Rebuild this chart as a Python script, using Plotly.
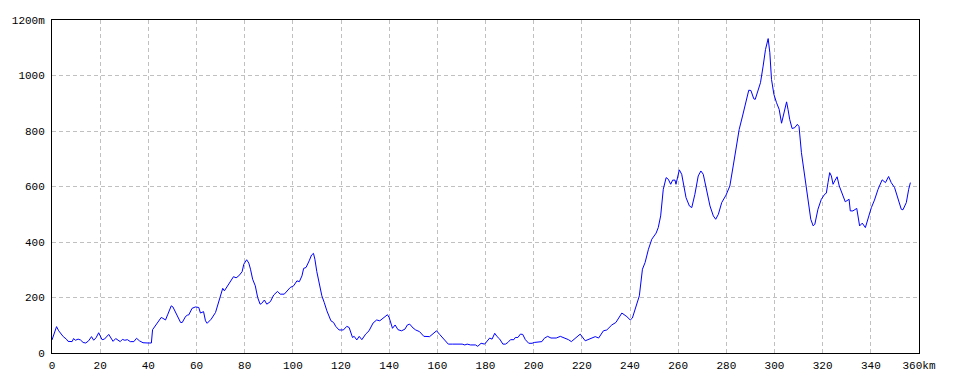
import plotly.graph_objects as go

distance_km = [
    0, 1.89, 2.78, 4.67, 5.97, 6.66, 8.35, 8.95, 9.74, 10.84, 11.83, 12.92, 14.02, 15.21, 16.4,
    17.3, 18.29, 19.39, 20.78, 21.77, 23.56, 24.66, 25.35, 26.45, 27.44, 28.33, 29.23, 30.22,
    31.32, 32.51, 34, 35.1, 36.29, 37.78, 39.87, 41.26, 41.76, 42.85, 44.04, 45.34, 46.03,
    47.13, 48.12, 49.51, 50.21, 51.6, 53.39, 54.08, 55.48, 56.37, 56.77, 58.16, 59.55, 60.94,
    61.64, 62.93, 63.73, 64.42, 66.11, 67.9, 68.8, 69.79, 70.89, 71.58, 72.28, 73.37, 73.97,
    75.36, 76.45, 77.55, 78.94, 79.64, 80.83, 81.72, 82.42, 83.31, 84.41, 85.4, 86.4, 86.99,
    88.19, 89.18, 90.67, 92.06, 93.65, 94.75, 96.44, 97.53, 98.92, 100.31, 101.71, 102.7,
    103.79, 104.49, 105.48, 106.78, 107.77, 108.57, 109.16, 109.96, 110.95, 112.05, 113.04,
    114.13, 115.82, 116.92, 117.81, 119.2, 120.99, 122.39, 123.38, 124.77, 125.47, 126.56,
    127.56, 128.65, 130.24, 131.63, 133.32, 134.81, 136.11, 137.9, 139.29, 139.98, 141.38,
    142.47, 143.66, 145.15, 146.55, 147.54, 148.53, 149.93, 151.02, 152.61, 154.4, 156.79,
    157.88, 159.67, 160.96, 162.75, 164.54, 166.23, 170.31, 171.4, 172.39, 173.79, 175.87,
    176.77, 178.16, 179.65, 180.65, 181.74, 182.73, 183.83, 184.82, 185.92, 187.21, 188.3,
    189.3, 190.39, 191.78, 192.38, 193.47, 194.47, 195.46, 196.55, 197.95, 199.34, 200.23,
    202.02, 203.41, 204.41, 205.8, 207.19, 209.38, 211.07, 212.86, 214.45, 215.64, 216.84,
    217.93, 219.32, 221.41, 223.5, 225.58, 226.98, 228.96, 230.36, 232.44, 234.13, 236.62,
    238.71, 240.1, 240.99, 242.58, 243.88, 245.17, 246.26, 247.66, 249.05, 250.84, 251.73,
    252.73, 253.82, 255.01, 255.91, 256.9, 257.7, 258.69, 259.09, 260.48, 261.47, 263.26,
    264.66, 265.65, 266.94, 268.33, 269.43, 270.42, 271.81, 273.21, 274.6, 275.59, 276.69,
    278.08, 279.87, 281.46, 282.85, 284.24, 285.34, 286.73, 288.12, 289.31, 290.21, 291.4,
    291.99, 293.19, 294.18, 295.28, 296.27, 297.37, 298.06, 298.76, 299.75, 300.84, 301.94,
    302.93, 303.63, 304.23, 305.02, 305.62, 306.31, 307.31, 308.4, 309.49, 310.19, 311.18,
    312.58, 313.97, 315.06, 316.06, 316.75, 318.04, 319.44, 320.83, 321.52, 322.22, 322.92,
    323.61, 324.31, 325, 326, 326.89, 328.19, 329.38, 330.97, 331.47, 332.56, 334.15, 335.34,
    336.44, 337.73, 338.82, 340.22, 341.51, 343, 344.69, 346.08, 347.37, 348.47, 349.86,
    351.25, 352.64, 353.34, 354.73, 355.72, 356.42,
]

elevation_m = [
    47, 95, 80, 59, 50, 42, 41, 52, 46, 50, 47, 38, 36, 44, 59, 46, 55, 73,
    48, 50, 67, 50, 42, 52, 47, 41, 49, 46, 48, 41, 41, 53, 44,
    37, 36, 36, 84, 98, 110, 128, 125, 119, 140, 170, 166, 140, 110, 110, 132,
    137, 137, 161, 166, 164, 144, 149, 116, 107, 122, 146, 170, 197, 233, 224, 233,
    251, 257, 275, 271, 278, 293, 320, 336, 324, 302, 266, 242, 200, 176, 178,
    191, 176, 185, 209, 222, 212, 212, 224, 236, 242, 260, 257, 278, 305,
    308, 332, 353, 359, 338, 293, 248, 206, 182, 152, 116, 110, 96,
    83, 83, 96, 92, 56, 60, 47, 60, 48, 68, 80, 108, 119,
    116, 128, 138, 128, 89, 101, 84, 80, 86, 101, 104, 90, 83,
    77, 60, 59, 66, 80, 67, 48, 32, 32, 32, 29, 32, 29,
    29, 24, 35, 32, 44, 54, 50, 71, 59, 50, 32, 32, 38,
    48, 48, 56, 56, 68, 67, 48, 35, 35, 38, 41, 41, 53,
    60, 54, 54, 60, 54, 48, 41, 50, 59, 68, 44, 53, 59,
    54, 80, 83, 101, 110, 144, 131, 119, 126, 170, 206, 302, 326,
    374, 410, 432, 452, 494, 590, 632, 626, 608, 623, 623, 608, 660,
    644, 560, 530, 524, 572, 638, 656, 644, 590, 530, 494, 482, 500, 542,
    569, 602, 674, 758, 806, 854, 908, 947, 946, 916, 914, 950, 974, 1034,
    1094, 1133, 1082, 986, 932, 902, 878, 828, 854, 884, 905, 878, 842,
    809, 812, 824, 816, 722, 638, 554, 482, 458, 464, 518, 554, 572,
    576, 614, 650, 638, 608, 620, 635, 602, 572, 545, 554, 512, 512,
    521, 458, 468, 452, 488, 524, 551, 590, 624, 614, 636, 614, 596,
    554, 518, 516, 542, 590, 614,
]

x_tick_values = list(range(0, 361, 20))
x_tick_labels = [str(v) for v in x_tick_values[:-1]] + ["360km"]
y_tick_values = list(range(0, 1201, 200))
y_tick_labels = [str(v) for v in y_tick_values[:-1]] + ["1200m"]

fig = go.Figure()
fig.add_trace(go.Scatter(
    x=distance_km, y=elevation_m, mode="lines",
    line=dict(color="#0000ff", width=1), hoverinfo="skip",
))

tick_font = dict(family="Liberation Mono, DejaVu Sans Mono, monospace", size=11, color="#000000")

fig.update_layout(
    width=960, height=384,
    margin=dict(l=50, r=41, t=20, b=30),
    paper_bgcolor="#ffffff", plot_bgcolor="#ffffff",
    showlegend=False,
    xaxis=dict(
        range=[0, 360], tickvals=x_tick_values, ticktext=x_tick_labels,
        showgrid=True, gridcolor="#c0c0c0", griddash="4px,3px", gridwidth=1,
        showline=True, linecolor="#000000", linewidth=1, mirror=True,
        zeroline=False, ticks="", tickfont=tick_font, ticklabelstandoff=2,
    ),
    yaxis=dict(
        range=[0, 1200], tickvals=y_tick_values, ticktext=y_tick_labels,
        showgrid=True, gridcolor="#c0c0c0", griddash="4px,3px", gridwidth=1,
        showline=True, linecolor="#000000", linewidth=1, mirror=True,
        zeroline=False, ticks="", tickfont=tick_font, ticklabelstandoff=4,
    ),
)

fig.write_html("out.html")
